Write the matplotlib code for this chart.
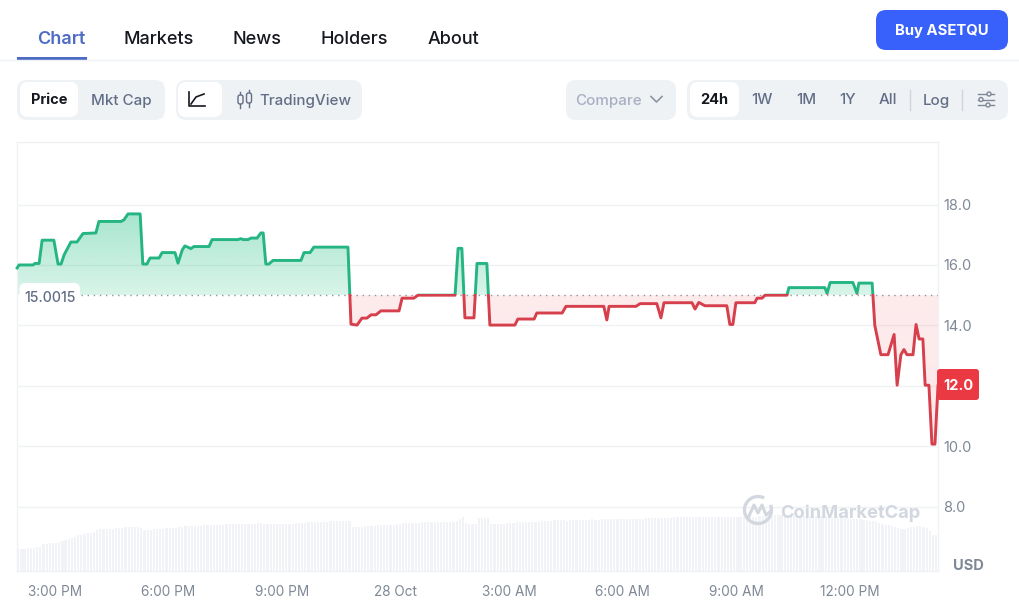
import numpy as np
import matplotlib
matplotlib.use("Agg")
import matplotlib.pyplot as plt
from matplotlib.patches import FancyBboxPatch, Rectangle, Circle
from matplotlib.path import Path

plt.rcParams["font.family"] = ["Inter", "DejaVu Sans"]

# price line, hours after 3:00 PM
hours = [-1.00, -0.95, -0.58, -0.53, -0.42, -0.34, -0.03, 0.08, 0.16, 0.24, 0.42, 0.58, 0.74,
         1.08, 1.16, 1.74, 1.82, 1.93, 2.25, 2.32, 2.43, 2.51, 2.75, 2.83, 3.17, 3.25, 3.36,
         3.43, 3.51, 3.59, 3.67, 4.07, 4.15, 4.83, 4.91, 4.97, 5.10, 5.18, 5.34, 5.44, 5.50,
         5.57, 5.65, 5.76, 6.50, 6.58, 6.74, 6.84, 7.74, 7.82, 7.98, 8.11, 8.24, 8.35, 8.48,
         8.61, 9.09, 9.17, 9.48, 9.59, 10.57, 10.65, 10.75, 10.83, 11.07, 11.15, 11.41, 11.49,
         12.15, 12.23, 12.66, 12.73, 13.40, 13.50, 14.50, 14.58, 14.64, 15.35, 15.46, 15.90,
         16.01, 16.09, 16.83, 16.91, 17.01, 17.17, 17.75, 17.83, 17.91, 17.99, 18.49, 18.55,
         18.68, 18.76, 19.34, 19.39, 20.34, 20.40, 20.48, 21.08, 21.19, 21.24, 21.59, 21.66,
         21.82, 22.01, 22.17, 22.25, 22.35, 22.43, 22.51, 22.67, 22.75, 22.83, 22.93, 22.99,
         23.09, 23.17, 23.25, 23.33]
prices = [15.90, 16.00, 16.00, 16.05, 16.05, 16.82, 16.82, 16.03, 16.03, 16.33, 16.76, 16.76, 17.04,
          17.06, 17.44, 17.44, 17.49, 17.69, 17.69, 16.03, 16.03, 16.23, 16.23, 16.41, 16.41, 16.06, 16.49,
          16.63, 16.59, 16.54, 16.61, 16.61, 16.84, 16.84, 16.87, 16.84, 16.84, 16.89, 16.89, 17.06, 17.06,
          16.03, 16.03, 16.15, 16.15, 16.41, 16.41, 16.59, 16.59, 14.04, 14.01, 14.24, 14.24, 14.35, 14.35,
          14.48, 14.48, 14.90, 14.90, 15.00, 15.00, 16.55, 16.55, 14.25, 14.25, 16.05, 16.05, 14.01,
          14.01, 14.21, 14.21, 14.41, 14.41, 14.63, 14.63, 14.18, 14.63, 14.63, 14.72, 14.72,
          14.25, 14.75, 14.75, 14.54, 14.76, 14.65, 14.65, 14.03, 14.03, 14.75, 14.75, 14.90,
          14.90, 15.00, 15.00, 15.25, 15.25, 15.06, 15.42, 15.42, 15.06, 15.40, 15.40, 14.00,
          13.03, 13.03, 13.70, 12.02, 13.03, 13.20, 13.03, 13.03, 14.03, 13.55, 13.55, 12.02,
          12.02, 10.07, 10.07, 12.00]
baseline = 15.0015
last_price = 12.0

# volume bars, one every 5 minutes, arbitrary units
volume = [22, 22, 22, 23, 23, 23, 24, 24, 27, 27,
          28, 28, 28, 29, 30, 31, 32, 33, 34, 36,
          36, 37, 38, 38, 39, 41, 42, 42, 42, 42,
          42, 43, 43, 43, 44, 44, 44, 44, 44, 43,
          41, 41, 41, 42, 42, 42, 42, 43, 43, 43,
          43, 44, 44, 45, 45, 45, 45, 45, 45, 46,
          46, 46, 46, 46, 46, 46, 47, 47, 47, 47,
          47, 47, 47, 47, 47, 47, 48, 48, 47, 47,
          47, 47, 47, 47, 47, 47, 47, 47, 48, 48,
          48, 48, 49, 49, 49, 49, 49, 49, 49, 50,
          50, 50, 50, 50, 50, 50, 44, 44, 44, 44,
          45, 45, 45, 45, 46, 46, 46, 46, 46, 46,
          47, 47, 48, 48, 48, 48, 48, 48, 49, 49,
          49, 49, 49, 49, 49, 49, 49, 49, 49, 50,
          52, 54, 48, 47, 47, 47, 53, 53, 53, 53,
          47, 47, 47, 47, 47, 48, 48, 48, 49, 49,
          49, 49, 49, 49, 49, 49, 50, 50, 50, 50,
          51, 51, 51, 51, 50, 51, 51, 51, 51, 51,
          51, 51, 52, 51, 51, 52, 52, 52, 52, 52,
          52, 52, 52, 52, 52, 52, 52, 52, 52, 53,
          53, 53, 53, 53, 53, 53, 53, 53, 54, 54,
          54, 54, 54, 54, 54, 54, 54, 54, 54, 54,
          54, 54, 54, 54, 54, 54, 54, 54, 54, 54,
          54, 55, 55, 54, 54, 55, 55, 55, 55, 55,
          56, 56, 56, 56, 56, 55, 55, 55, 55, 55,
          55, 55, 55, 55, 55, 55, 55, 55, 54, 54,
          54, 54, 53, 53, 52, 52, 52, 52, 51, 51,
          50, 50, 49, 48, 47, 46, 46, 45, 44, 43,
          42, 42, 43, 44, 44, 45, 45, 44, 43, 40,
          36, 36]

time_ticks = [0, 3, 6, 9, 12, 15, 18, 21]
time_labels = ["3:00 PM", "6:00 PM", "9:00 PM", "28 Oct", "3:00 AM", "6:00 AM", "9:00 AM", "12:00 PM"]
price_ticks = [8, 10, 12, 14, 16, 18]
# 12.0 is covered by the last price tag
price_labels = ["8.0", "10.0", "", "14.0", "16.0", "18.0"]

W, H = 1020, 608
GREEN = "#25b583"
RED = "#d63f4c"
GRID = "#eff1f4"
TICK = "#7f8896"

fig = plt.figure(figsize=(W / 100, H / 100), dpi=100)
rect = [17 / W, 1 - 571 / H, (938 - 17) / W, (571 - 142) / H]

# volume sits behind the price axes
ax_vol = fig.add_axes(rect, zorder=1)
vol_hours = -1.0 + np.arange(len(volume)) / 12
ax_vol.bar(vol_hours + 0.03, volume, width=0.058, color="#f1f3f6", linewidth=0)
ax_vol.set_xlim(-1.004, 23.33)
ax_vol.set_ylim(0, 429)
ax_vol.axis("off")

ax = fig.add_axes(rect, zorder=2)
ax.patch.set_visible(False)
ax.set_xlim(-1.004, 23.33)
ax.set_ylim(5.87, 20.07)

x = np.array(hours)
y = np.array(prices)

ax.set_yticks(price_ticks, price_labels)
ax.yaxis.tick_right()
ax.set_xticks(time_ticks, time_labels)
ax.tick_params(axis="both", length=0, labelcolor=TICK)
ax.tick_params(axis="x", pad=10, labelsize=9.8)
ax.tick_params(axis="y", pad=4, labelsize=10.5)
ax.grid(axis="y", color=GRID, lw=1)
ax.set_axisbelow(True)
for side in ["left", "right", "top", "bottom"]:
    ax.spines[side].set_color(GRID)
    ax.spines[side].set_linewidth(1)


def gradient_fill(where, colour, a_far, a_near, y_far):
    # area between the line and the baseline, fading towards the baseline
    poly = ax.fill_between(x, y, baseline, where=where, interpolate=True, color="none", lw=0)
    path = Path.make_compound_path(*poly.get_paths())
    rgba = np.zeros((64, 2, 4))
    rgba[..., :3] = matplotlib.colors.to_rgb(colour)
    rgba[..., 3] = np.linspace(a_far, a_near, 64)[:, None]
    if y_far > baseline:
        im = ax.imshow(rgba, extent=(x[0], x[-1], baseline, y_far), origin="upper",
                       aspect="auto", zorder=1.5, interpolation="bilinear")
    else:
        im = ax.imshow(rgba, extent=(x[0], x[-1], y_far, baseline), origin="lower",
                       aspect="auto", zorder=1.5, interpolation="bilinear")
    im.set_clip_path(path, transform=ax.transData)


gradient_fill(y >= baseline, "#1fbf82", 0.40, 0.17, 17.8)
gradient_fill(y <= baseline, "#f25a64", 0.14, 0.12, 10.0)
ax.set_xlim(-1.004, 23.33)
ax.set_ylim(5.87, 20.07)

ax.axhline(baseline, xmin=0.07, color="#8d95a1", lw=1, ls=(0, (1, 3.4)), zorder=1.8)

line_up, = ax.plot(x, y, color=GREEN, lw=2.1, zorder=3, solid_joinstyle="round")
line_up.set_clip_path(Rectangle((-2, baseline + 0.03), 30, 10, transform=ax.transData))
line_dn, = ax.plot(x, y, color=RED, lw=2.1, zorder=3, solid_joinstyle="round")
line_dn.set_clip_path(Rectangle((-2, 0), 30, baseline + 0.03, transform=ax.transData))

# page furniture drawn in pixel coordinates
ui = fig.add_axes([0, 0, 1, 1], zorder=3)
ui.set_xlim(0, W)
ui.set_ylim(H, 0)
ui.axis("off")


def pill(x0, y0, x1, y1, colour, r=10, **kw):
    ui.add_patch(FancyBboxPatch((x0, y0), x1 - x0, y1 - y0, boxstyle=f"round,pad=0,rounding_size={r}",
                                fc=colour, ec="none", **kw))


def label(px, py, s, colour="#616e85", size=10.9, weight="medium", ha="center"):
    ui.text(px, py, s, color=colour, fontsize=size, fontweight=weight, ha=ha, va="center_baseline")


# tabs
ui.plot([0, W], [59.5, 59.5], color="#eff2f5", lw=1)
ui.add_patch(Rectangle((17, 56.5), 70, 3, fc="#4f6cc4", ec="none"))
label(61, 37.5, "Chart", "#4f6cc4", 13, "semibold")
for px, s in zip([159, 257, 354, 453], ["Markets", "News", "Holders", "About"]):
    label(px, 37.5, s, "#15181e", 13, "medium")
pill(876, 10, 1008, 50, "#3861fb")
label(942, 30, "Buy ASETQU", "white", 10.7, "bold")

# toolbar
SEG = "#eff2f5"
pill(17, 80, 165, 120, SEG)
pill(20, 82, 78, 117, "white", 8)
label(49, 99, "Price", "#15181e", 10.5, "bold")
label(121, 99, "Mkt Cap")
pill(176, 80, 362, 120, SEG)
pill(178, 82, 222, 117, "white", 8)
ui.plot([189, 189, 205], [92, 106, 106], color="#15181e", lw=1.2)
ui.plot([191, 196, 204], [104, 97, 94], color="#15181e", lw=1.2)
for px, y0, y1 in [(240.5, 95, 104), (249, 93, 103)]:
    ui.plot([px, px], [y0 - 3, y1 + 4], color="#616e85", lw=1)
    ui.add_patch(FancyBboxPatch((px - 2.5, y0), 5, y1 - y0, boxstyle="round,pad=0,rounding_size=2",
                                fc=SEG, ec="#616e85", lw=1, zorder=3))
label(305, 99, "TradingView")
pill(566, 80, 676, 120, SEG)
label(608.5, 99, "Compare", "#a6b0c3")
ui.plot([651, 656.5, 662], [96.5, 102, 96.5], color="#8d95a8", lw=1.2)
pill(687, 80, 1008, 120, SEG)
pill(690, 82, 739, 117, "white", 8)
label(714, 99, "24h", "#15181e", 10.5, "bold")
for px, s in zip([762, 806, 848, 888, 936], ["1W", "1M", "1Y", "All", "Log"]):
    label(px, 99, s)
for px in [910, 962]:
    ui.plot([px, px], [90, 110], color="#cfd5dd", lw=1)
for py, knob in [(94, 989), (99.5, 981), (105, 988)]:
    ui.plot([978, 994], [py, py], color="#7f8896", lw=1)
    ui.add_patch(Circle((knob, py), 2, fc=SEG, ec="#7f8896", lw=1, zorder=3))

# value tags
pill(19.5, 283, 80, 308, "white", 6)
label(50, 297, "15.0015", "#616e85", 10.2, "medium")
pill(937, 369, 979, 400, "#ea3943", 3)
label(958, 385, f"{last_price:.1f}", "white", 10.5, "bold")
label(968, 565, "USD", "#7f8896", 10.5, "bold")

# watermark
wm = "#d3d8e0"
theta = np.radians(np.arange(-290, 16, 5))
ui.plot(758 + 13.5 * np.cos(theta), 510 - 13.5 * np.sin(theta), color=wm, lw=2.4)
ui.plot([749, 754, 758, 762, 766, 771], [516, 505, 513, 505, 515, 511], color=wm, lw=2.2)
label(850, 511.5, "CoinMarketCap", wm, 13.2, "bold")

fig.savefig("out.png", dpi=100)
